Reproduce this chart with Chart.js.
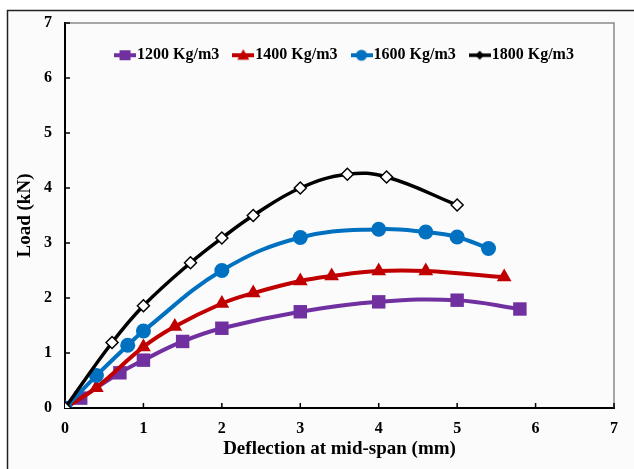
<!DOCTYPE html>
<html>
<head>
<meta charset="utf-8">
<script src="https://cdn.jsdelivr.net/npm/chart.js@4.4.1/dist/chart.umd.min.js"></script>
<style>
  html, body { margin: 0; padding: 0; background: #fff; }
  #wrap { width: 634px; height: 469px; position: relative; }
</style>
</head>
<body>
<div id="wrap"><canvas id="loadChart" width="634" height="469"></canvas></div>
<script>
const seriesNames = ['1200 Kg/m3', '1400 Kg/m3', '1600 Kg/m3', '1800 Kg/m3'];
const seriesColors = ['#7030A0', '#C00000', '#0070C0', '#000000'];

// deflection (mm) / load (kN)
const x1200 = [0, 0.2, 0.7, 1.0, 1.5, 2.0, 3.0, 4.0, 5.0, 5.8];
const y1200 = [0, 0.18, 0.64, 0.87, 1.21, 1.45, 1.75, 1.93, 1.96, 1.80];
const x1400 = [0, 0.4, 1.0, 1.4, 2.0, 2.4, 3.0, 3.4, 4.0, 4.6, 5.6];
const y1400 = [0, 0.37, 1.11, 1.48, 1.90, 2.09, 2.31, 2.40, 2.49, 2.49, 2.38];
const x1600 = [0, 0.4, 0.8, 1.0, 2.0, 3.0, 4.0, 4.6, 5.0, 5.4];
const y1600 = [0, 0.59, 1.14, 1.40, 2.50, 3.10, 3.25, 3.20, 3.11, 2.90];
const x1800 = [0, 0.6, 1.0, 1.6, 2.0, 2.4, 3.0, 3.6, 4.1, 5.0];
const y1800 = [0, 1.19, 1.86, 2.64, 3.09, 3.50, 4.00, 4.25, 4.20, 3.69];

const axisTicks = [0, 1, 2, 3, 4, 5, 6, 7];

const FONT = 'Liberation Serif, Times New Roman, serif';

function toPoints(xs, ys) {
  return xs.map((x, i) => ({ x: x, y: ys[i] }));
}

// little line + marker image for the legend
function legendIcon(color, shape) {
  const c = document.createElement('canvas');
  c.width = 22; c.height = 14;
  const ctx = c.getContext('2d');
  ctx.strokeStyle = color;
  ctx.lineWidth = shape === 'diamond' ? 3.5 : 4;
  ctx.beginPath(); ctx.moveTo(0, 7); ctx.lineTo(22, 7); ctx.stroke();
  ctx.fillStyle = color;
  ctx.beginPath();
  if (shape === 'rect') ctx.rect(5.5, 2, 11, 10);
  else if (shape === 'triangle') { ctx.moveTo(11, 1); ctx.lineTo(17, 11.5); ctx.lineTo(5, 11.5); ctx.closePath(); }
  else if (shape === 'circle') ctx.arc(11, 7, 5.5, 0, Math.PI * 2);
  else { ctx.moveTo(11, 2.5); ctx.lineTo(15.5, 7); ctx.lineTo(11, 11.5); ctx.lineTo(6.5, 7); ctx.closePath(); }
  ctx.fill();
  return c;
}

const shapes = ['rect', 'triangle', 'circle', 'diamond'];
const icons = seriesColors.map((c, i) => legendIcon(c, shapes[i]));

const framePlugin = {
  id: 'frame',
  afterLayout(chart) {
    // legend sits inside the plot: take no layout room, but keep a box big enough to draw in
    const lg = chart.legend;
    lg.left += 8;
    lg.right += 8;
    lg.bottom = lg.top + 60;
    lg.height = 60;
  },
  beforeDraw(chart) {
    const ctx = chart.ctx;
    ctx.save();
    ctx.fillStyle = '#ffffff';
    ctx.fillRect(0, 0, chart.width, chart.height);
    ctx.fillStyle = '#fbfbfb';
    ctx.fillRect(8, 11, chart.width - 8, chart.height - 11);
    ctx.strokeStyle = '#222';
    ctx.lineWidth = 1.5;
    ctx.beginPath();
    ctx.moveTo(7.5, chart.height);
    ctx.lineTo(7.5, 10.5);
    ctx.lineTo(chart.width, 10.5);
    ctx.stroke();
    ctx.restore();
  },
  beforeDatasetsDraw(chart) {
    const { ctx, chartArea: a, scales } = chart;
    ctx.save();
    ctx.strokeStyle = '#8a8a8a';
    ctx.lineWidth = 1.5;
    ctx.beginPath();
    ctx.moveTo(a.left, a.top);
    ctx.lineTo(a.right, a.top);
    ctx.lineTo(a.right, a.bottom);
    ctx.stroke();
    ctx.strokeStyle = '#000';
    ctx.lineWidth = 1.5;
    axisTicks.forEach(v => {
      if (v === 0) return;
      const px = scales.x.getPixelForValue(v);
      const py = scales.y.getPixelForValue(v);
      ctx.beginPath();
      ctx.moveTo(px, a.bottom); ctx.lineTo(px, a.bottom - 5);
      ctx.moveTo(a.left, py); ctx.lineTo(a.left + 5, py);
      ctx.stroke();
    });
    ctx.restore();
  }
};

const allX = [x1200, x1400, x1600, x1800];
const allY = [y1200, y1400, y1600, y1800];
const radii = [9.5, 8.5, 7.5, 6];

const datasets = seriesNames.map((name, i) => ({
  label: name,
  data: toPoints(allX[i], allY[i]),
  borderColor: seriesColors[i],
  backgroundColor: seriesColors[i],
  borderWidth: i === 3 ? 3.5 : 4,
  tension: 0.4,
  pointStyle: shapes[i] === 'diamond' ? 'rectRot' : shapes[i],
  pointRadius: radii[i],
  pointHoverRadius: radii[i],
  pointBackgroundColor: i === 3 ? '#ffffff' : seriesColors[i],
  pointBorderColor: seriesColors[i],
  pointBorderWidth: i === 3 ? 1.5 : 0,
  order: 3 - i
}));

new Chart(document.getElementById('loadChart'), {
  type: 'line',
  data: { datasets: datasets },
  plugins: [framePlugin],
  options: {
    responsive: false,
    animation: false,
    layout: { padding: { left: 0, top: 22, right: 20, bottom: 0 } },
    plugins: {
      tooltip: { enabled: false },
      legend: {
        position: 'top',
        align: 'center',
        fullSize: false,
        maxHeight: 1,
        title: { display: true, text: ' ', font: { size: 1 }, padding: { top: 4, bottom: 0 } },
        labels: {
          usePointStyle: true,
          pointStyleWidth: 8,
          padding: 20,
          color: '#000',
          font: { family: FONT, size: 16, weight: 'bold' },
          generateLabels: (chart) => chart.data.datasets.map((ds, i) => ({
            text: ds.label,
            pointStyle: icons[i],
            fillStyle: ds.borderColor,
            strokeStyle: ds.borderColor,
            lineWidth: 0,
            fontColor: '#000',
            hidden: false,
            datasetIndex: i
          }))
        }
      }
    },
    scales: {
      x: {
        type: 'linear',
        min: 0, max: 7,
        afterBuildTicks: s => { s.ticks = axisTicks.map(v => ({ value: v })); },
        afterFit: s => { s.height = 61; },
        grid: { display: false, drawTicks: false },
        border: { display: true, color: '#000', width: 2 },
        ticks: { padding: 11, color: '#000', font: { family: FONT, size: 16, weight: 'bold' } },
        title: {
          display: true,
          text: 'Deflection at mid-span (mm)',
          color: '#000',
          font: { family: FONT, size: 19, weight: 'bold' },
          padding: { top: 0, bottom: 9 }
        }
      },
      y: {
        type: 'linear',
        min: 0, max: 7,
        afterBuildTicks: s => { s.ticks = axisTicks.map(v => ({ value: v })); },
        afterFit: s => { s.width = 65; },
        grid: { display: false, drawTicks: false },
        border: { display: true, color: '#000', width: 2 },
        ticks: { padding: 13, color: '#000', font: { family: FONT, size: 16, weight: 'bold' } },
        title: {
          display: true,
          text: 'Load (kN)',
          color: '#000',
          font: { family: FONT, size: 19, weight: 'bold' },
          padding: { top: 14, bottom: 0 }
        }
      }
    }
  }
});
</script>
</body>
</html>
